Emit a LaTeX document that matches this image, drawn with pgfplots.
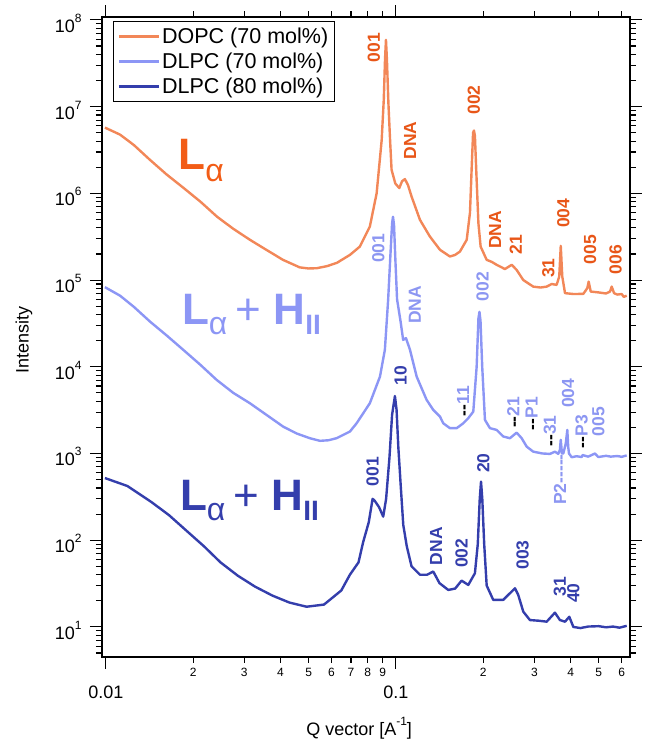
\documentclass[border=0pt]{standalone}
\usepackage{fontspec}
\setmainfont{Liberation Sans}
\usepackage{pgfplots}
\pgfplotsset{compat=1.18}
\definecolor{orL}{RGB}{242,135,88}
\definecolor{orT}{RGB}{232,86,24}
\definecolor{orB}{RGB}{242,92,22}
\definecolor{lbL}{RGB}{140,150,245}
\definecolor{lbT}{RGB}{140,150,242}
\definecolor{dbL}{RGB}{52,62,172}
\newcommand\sups[1]{\raisebox{10pt}{\fontsize{12}{12}\selectfont #1}}
\newcommand\ann{\fontsize{17.5}{17.5}\selectfont\bfseries}
\begin{document}
\begin{tikzpicture}
\path[use as bounding box] (-102pt,-83pt) rectangle (543pt,657pt);
\begin{axis}[at={(0,0)}, anchor=south west, scale only axis,
  width=528pt, height=640pt,
  xmode=log, ymode=log, xmin=0.0097, xmax=0.641, ymin=4.5, ymax=1.08e8,
  axis line style={line width=1.2pt},
  tick style={black, line width=1.1pt},
  tick align=outside, major tick length=12pt, minor tick length=6pt,
  xtick={0.01,0.1}, xticklabels={0.01,0.1},
  minor xtick={0.02,0.03,0.04,0.05,0.06,0.07,0.08,0.09,0.2,0.3,0.4,0.5,0.6},
  extra x ticks={0.02,0.03,0.04,0.05,0.06,0.07,0.08,0.09,0.2,0.3,0.4,0.5,0.6},
  extra x tick labels={2,3,4,5,6,7,8,9,2,3,4,5,6},
  extra x tick style={major tick length=6pt, xticklabel shift=14pt,
     xticklabel style={font=\fontsize{12}{12}\selectfont, anchor=base}},
  xticklabel style={font=\fontsize{18}{18}\selectfont, anchor=base},
  xticklabel shift=30pt,
  ytick={10,100,1000,10000,100000,1000000,10000000,100000000},
  yticklabels={10\sups{1},10\sups{2},10\sups{3},10\sups{4},10\sups{5},10\sups{6},10\sups{7},10\sups{8}},
  minor ytick={5,6,7,8,9,20,30,40,50,60,70,80,90,200,300,400,500,600,700,800,900,
    2000,3000,4000,5000,6000,7000,8000,9000,20000,30000,40000,50000,60000,70000,80000,90000,
    200000,300000,400000,500000,600000,700000,800000,900000,
    2000000,3000000,4000000,5000000,6000000,7000000,8000000,9000000,
    20000000,30000000,40000000,50000000,60000000,70000000,80000000,90000000},
  yticklabel style={font=\fontsize{18}{18}\selectfont, anchor=base east, yshift=-12.5pt},
  yticklabel shift=5pt,
  xlabel={Q vector [A\sups{-1}]},
  ylabel={Intensity},
  xlabel style={font=\fontsize{18}{18}\selectfont, at={(axis description cs:0.487,-0.1219)}, anchor=base},
  ylabel style={font=\fontsize{18}{18}\selectfont, at={(axis description cs:-0.1477,0.495)}, anchor=center},
  legend cell align=left,
  legend image code/.code={\draw[#1, line width=2.6pt] (0pt,0pt) -- (40pt,0pt);},
  legend style={at={(0,1)}, anchor=north west, xshift=11pt, yshift=-4pt,
    draw=black, line width=1.1pt, font=\fontsize{21.5}{21.5}\selectfont,
    inner xsep=4pt, inner ysep=5pt, row sep=5pt,
    nodes={inner xsep=2pt, inner ysep=1.5pt}},
]
% DOPC 70 mol%
\addplot[orL, line width=2.4pt, line join=round] coordinates {
(0.00993,5.73e6) (0.0112,4.75e6) (0.0125,3.6e6) (0.0142,2.43e6) (0.0162,1.65e6)
(0.0185,1.16e6) (0.0212,8.0e5) (0.0242,5.36e5) (0.0275,3.9e5) (0.0314,2.91e5)
(0.036,2.2e5) (0.0408,1.71e5) (0.0466,1.40e5) (0.050,1.36e5) (0.0534,1.37e5)
(0.058,1.45e5) (0.0626,1.58e5) (0.0694,1.95e5) (0.0751,2.43e5) (0.0813,4.14e5)
(0.0858,1.0e6) (0.0893,4.1e6) (0.0908,1.2e7) (0.0917,3.5e7) (0.0924,5.9e7)
(0.0931,3.5e7) (0.0942,1.1e7) (0.0955,4.0e6) (0.0966,1.87e6) (0.0995,1.3e6)
(0.1027,1.15e6) (0.1050,1.38e6) (0.1074,1.46e6) (0.1100,1.25e6) (0.1132,9.2e5)
(0.1210,4.95e5) (0.1309,3.18e5) (0.1419,2.23e5) (0.1535,1.87e5) (0.1600,1.95e5)
(0.1662,2.13e5) (0.1754,2.91e5) (0.1800,6.0e5) (0.1825,2.0e6) (0.1845,5.0e6)
(0.1858,5.3e6) (0.1872,4.6e6) (0.1895,1.6e6) (0.1925,4.5e5) (0.1959,2.43e5)
(0.2055,1.71e5) (0.2140,1.62e5) (0.2223,1.5e5) (0.2376,1.34e5) (0.2507,1.5e5)
(0.2606,1.31e5) (0.2748,1.0e5) (0.2974,8.4e4) (0.3150,8.2e4) (0.3309,8.4e4)
(0.3443,9.0e4) (0.3581,8.8e4) (0.3656,1.1e5) (0.3700,2.48e5) (0.3745,1.1e5)
(0.3827,7.06e4) (0.4100,6.9e4) (0.4426,6.93e4) (0.4567,8.07e4) (0.4618,9.6e4)
(0.4692,7.37e4) (0.5000,7.2e4) (0.5300,7.0e4) (0.5470,7.37e4) (0.5545,8.41e4)
(0.5646,7.06e4) (0.5800,6.8e4) (0.6000,6.9e4) (0.6100,6.4e4) (0.6245,6.6e4)
};
\addlegendentry{DOPC (70 mol\%)}
% DLPC 70 mol%
\addplot[lbL, line width=2.4pt, line join=round] coordinates {
(0.00993,8.28e4) (0.0112,6.6e4) (0.0125,4.9e4) (0.0142,3.32e4) (0.0162,2.3e4)
(0.01848,1.57e4) (0.0212,1.05e4) (0.0241,7.06e3) (0.0275,5.0e3) (0.03137,3.8e3)
(0.036,2.75e3) (0.04087,2.04e3) (0.0455,1.7e3) (0.0505,1.5e3) (0.0547,1.40e3)
(0.0585,1.42e3) (0.0624,1.5e3) (0.0694,1.79e3) (0.0732,2.23e3) (0.0813,3.8e3)
(0.0881,7.7e3) (0.0916,1.57e4) (0.0940,5.9e4) (0.0959,2.2e5) (0.0970,4.5e5)
(0.0977,5.37e5) (0.0985,4.3e5) (0.0995,1.8e5) (0.1009,6.0e4) (0.1038,3.3e4)
(0.1059,2.04e4) (0.1083,2.14e4) (0.1118,1.57e4) (0.1179,7.7e3) (0.1276,4.15e3)
(0.1345,3.18e3) (0.1418,2.67e3) (0.1456,2.23e3) (0.1535,1.96e3) (0.1620,1.96e3)
(0.1706,2.23e3) (0.1775,2.55e3) (0.1848,3.04e3) (0.1898,1.0e4) (0.1925,3.6e4)
(0.1941,4.3e4) (0.1957,3.4e4) (0.1984,1.0e4) (0.2027,2.44e3) (0.2109,1.96e3)
(0.2224,1.87e3) (0.2345,1.57e3) (0.2472,1.5e3) (0.2607,1.74e3) (0.2713,1.5e3)
(0.2823,1.2e3) (0.2974,1.05e3) (0.3200,1.0e3) (0.3396,989) (0.3533,1.05e3)
(0.3628,990) (0.3675,1.1e3) (0.3700,1.44e3) (0.3735,1.0e3) (0.3776,1.0e3)
(0.3850,1.3e3) (0.3898,1.87e3) (0.3925,1.2e3) (0.3950,1.0e3) (0.4035,906)
(0.4200,930) (0.4368,910) (0.4400,960) (0.4600,920) (0.4856,1.0e3)
(0.4982,910) (0.5300,940) (0.5500,920) (0.5800,935) (0.6000,915) (0.6245,950)
};
\addlegendentry{DLPC (70 mol\%)}
% DLPC 80 mol%
\addplot[dbL, line width=2.4pt, line join=round] coordinates {
(0.00993,521) (0.01186,422) (0.01437,275) (0.0165,195) (0.0189,130)
(0.0218,85) (0.02485,55.5) (0.0285,39) (0.03266,29.2) (0.0375,23)
(0.04295,19.1) (0.0492,17.1) (0.0565,18.1) (0.0648,26.3) (0.0694,40)
(0.0743,55.5) (0.0771,95) (0.0806,161) (0.0831,300) (0.0845,285)
(0.0875,240) (0.0904,187) (0.0925,300) (0.0950,900) (0.0970,2.8e3)
(0.0992,4.6e3) (0.1005,3.2e3) (0.1019,1.2e3) (0.1040,400) (0.1060,150)
(0.1090,85) (0.1132,50) (0.1210,40) (0.1280,40) (0.1345,43.5)
(0.1413,32) (0.1515,26.7) (0.1600,27.7) (0.1684,34.2) (0.1776,30.5)
(0.1872,41.6) (0.1915,90) (0.1945,300) (0.1965,474) (0.1985,300)
(0.2015,90) (0.2055,30) (0.2165,20.5) (0.2344,20.5) (0.2572,27.9)
(0.2640,23.4) (0.2748,15) (0.2897,12) (0.3100,11.8) (0.3309,11.5)
(0.3533,14.6) (0.3676,12) (0.3828,11.5) (0.3960,13.1) (0.4088,10)
(0.4323,9.7) (0.4600,10.1) (0.5000,10.2) (0.5300,9.9) (0.5603,10.1)
(0.5900,9.8) (0.6245,10.3)
};
\addlegendentry{DLPC (80 mol\%)}
% big phase labels
\node[anchor=base west, inner sep=0, text=orB] at (axis cs:0.01778,1.87e6)
 {\fontsize{44}{44}\selectfont\bfseries L\raisebox{-12pt}{\fontsize{32}{32}\selectfont\mdseries α}};
\node[anchor=base west, inner sep=0, text=lbL] at (axis cs:0.01828,3.04e4)
 {\fontsize{44}{44}\selectfont\bfseries L\raisebox{-10pt}{\fontsize{32}{32}\selectfont\mdseries α}\hspace{8.6pt}{\mdseries +}\hspace{11.8pt}H\raisebox{-10pt}{\fontsize{28}{28}\selectfont II}};
\node[anchor=base west, inner sep=0, text=dbL] at (axis cs:0.01799,223)
 {\fontsize{44}{44}\selectfont\bfseries L\raisebox{-10pt}{\fontsize{32}{32}\selectfont\mdseries α}\hspace{8.6pt}{\mdseries +}\hspace{11.8pt}H\raisebox{-10pt}{\fontsize{28}{28}\selectfont II}};
% DOPC peak labels
\begin{scope}[every node/.style={rotate=90, text=orT, font=\ann, inner sep=0}]
\node at (axis cs:0.0839,4.76e7) {001};
\node at (axis cs:0.1118,4.08e6) {DNA};
\node at (axis cs:0.1858,1.19e7) {002};
\node at (axis cs:0.2195,3.8e5) {DNA};
\node at (axis cs:0.2588,2.55e5) {21};
\node at (axis cs:0.335,1.37e5) {31};
\node at (axis cs:0.3776,5.9e5) {004};
\node at (axis cs:0.4667,2.23e5) {005};
\node at (axis cs:0.5723,1.71e5) {006};
\end{scope}
% DLPC 70 labels
\begin{scope}[every node/.style={rotate=90, text=lbT, font=\ann, inner sep=0}]
\node at (axis cs:0.0869,2.33e5) {001};
\node at (axis cs:0.1163,5.18e4) {DNA};
\node at (axis cs:0.199,8.4e4) {002};
\node at (axis cs:0.3926,4.96e3) {004};
\node at (axis cs:0.4983,2.33e3) {005};
\node[anchor=west] at (axis cs:0.1706,2.67e3) {\textcolor{black}{-{}-}11};
\node[anchor=west] at (axis cs:0.2538,1.96e3) {\textcolor{black}{-{}-}21};
\node[anchor=west] at (axis cs:0.2938,1.84e3) {\textcolor{black}{-{}-}P1};
\node[anchor=west] at (axis cs:0.3396,1.2e3) {\textcolor{black}{-{}-}31};
\node[anchor=west] at (axis cs:0.4368,1.15e3) {\textcolor{black}{-{}-}P3};
\node[anchor=west] at (axis cs:0.3676,255) {P2-{}-{}-{}-{}-};
\end{scope}
% DLPC 80 labels
\begin{scope}[every node/.style={rotate=90, text=dbL, font=\ann, inner sep=0}]
\node at (axis cs:0.1038,7.85e3) {10};
\node at (axis cs:0.0831,618) {001};
\node at (axis cs:0.1376,85.3) {DNA};
\node at (axis cs:0.1684,70.8) {002};
\node at (axis cs:0.200,773) {20};
\node at (axis cs:0.2734,67.6) {003};
\node at (axis cs:0.3676,29.2) {31};
\node at (axis cs:0.4088,24.5) {40};
\end{scope}
\end{axis}
\end{tikzpicture}
\end{document}
